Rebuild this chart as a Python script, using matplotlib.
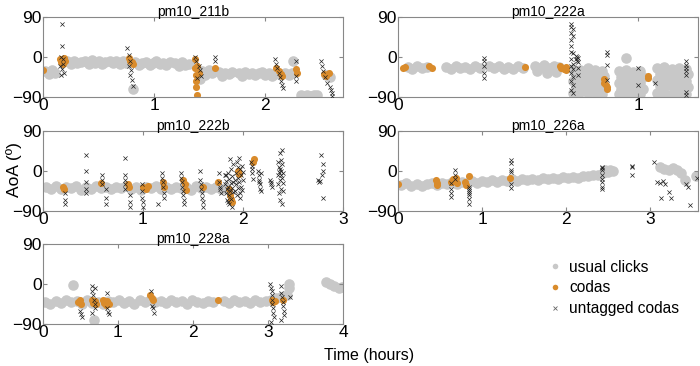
import matplotlib.pyplot as plt
from matplotlib.lines import Line2D

plt.rcParams['font.family'] = ['Liberation Sans', 'DejaVu Sans']

GRAY = '#c8c8c8'
ORANGE = '#d98b2b'
DARK = '#222222'

names = ['pm10_211b', 'pm10_222a', 'pm10_222b', 'pm10_226a', 'pm10_228a']
xmax = [2.7, 1.25, 3.0, 3.57, 4.0]
xticks = [[0, 1, 2], [0, 1], [0, 1, 2, 3], [0, 1, 2, 3], [0, 1, 2, 3, 4]]

# ---- pm10_211b
clicks_211b_t = [0.02, 0.05, 0.08, 0.11,
                 0.22, 0.25, 0.28, 0.31, 0.34,
                 0.38, 0.41, 0.44, 0.47, 0.50, 0.53, 0.56,
                 0.60, 0.63, 0.66, 0.69, 0.72, 0.75,
                 0.83, 0.86, 0.89,
                 0.93, 0.96, 0.99, 1.02, 1.05, 1.08, 1.11, 1.14,
                 1.19, 1.22, 1.25, 1.28, 1.31,
                 1.43, 1.46, 1.49, 1.52, 1.58, 1.61, 1.64, 1.67, 1.70,
                 1.76, 1.79, 1.82, 1.85, 1.88, 1.91, 1.94,
                 1.97, 2.00, 2.03, 2.06, 2.09, 2.18, 2.21, 2.24,
                 2.25,
                 2.32, 2.35, 2.38, 2.41, 2.44, 2.47,
                 2.55, 2.58,
                 0.81, 1.41]
clicks_211b_a = [-32, -38, -30, -36,
                 -10, -16, -8, -14, -12,
                 -9, -15, -7, -13, -10, -16, -12,
                 -8, -14, -10, -16, -9, -13,
                 -12, -18, -14,
                 -12, -18, -14, -10, -16, -13, -17, -12,
                 -14, -20, -12, -18, -15,
                 -32, -40, -30, -36, -34, -42, -35, -38, -33,
                 -36, -42, -34, -38, -35, -41, -37,
                 -34, -40, -36, -42, -38, -35, -40, -36,
                 -8,
                 -86, -87, -86, -87, -86, -86,
                 -40, -44,
                 -72, -50]
codas_211b_t = [0.0, 0.15, 0.16, 0.17, 0.18, 0.19, 0.20, 0.77, 0.78, 0.80, 0.81,
                1.37, 1.37, 1.38, 1.38, 1.38, 1.39, 1.39, 1.40, 1.55,
                2.10, 2.12, 2.14, 2.15, 2.28, 2.29, 2.53, 2.55, 2.57]
codas_211b_a = [-30, -5, -12, -8, -15, -3, -10, -2, -8, -12, -16,
                -5, -25, -40, -55, -68, -85, -20, -35, -25,
                -25, -32, -38, -42, -28, -35, -38, -42, -35]
untag_211b_t = [0.17, 0.17, 0.16, 0.18, 0.15, 0.17, 0.19, 0.16, 0.18,
                0.76, 0.77, 0.78, 0.77, 0.79, 0.78, 0.80, 0.81,
                1.37, 1.38, 1.40, 1.41, 1.42, 1.39, 1.55, 1.55,
                2.09, 2.10, 2.11, 2.12, 2.13, 2.14, 2.15, 2.16,
                2.28, 2.28, 2.28,
                2.50, 2.51, 2.52, 2.54, 2.56, 2.58, 2.59, 2.60, 2.60]
untag_211b_a = [75, 25, 0, -5, -20, -28, -35, -40, -15,
                20, 5, -10, -20, -30, -40, -52, -65,
                0, -10, -20, -30, -42, -48, 0, -8,
                -5, -15, -25, -35, -45, -55, -62, -70,
                -10, -42, -55,
                -8, -20, -32, -45, -58, -68, -75, -82, -88]

# ---- pm10_222a
clicks_222a_t = [0.04, 0.06, 0.08, 0.10, 0.12,
                 0.20, 0.22, 0.24, 0.26, 0.28, 0.30, 0.32, 0.34,
                 0.38, 0.40, 0.42, 0.44, 0.46, 0.48, 0.50, 0.52,
                 0.57, 0.59, 0.61, 0.63, 0.65, 0.67, 0.58, 0.62, 0.66,
                 0.73, 0.76, 0.79, 0.82, 0.85, 0.74, 0.77, 0.80, 0.83, 0.86,
                 0.73, 0.76, 0.79, 0.82, 0.85, 0.74, 0.77, 0.80, 0.83, 0.86,
                 0.73, 0.76, 0.79, 0.82, 0.85,
                 0.92, 0.95, 0.98, 1.01, 0.93, 0.96, 0.99, 1.02,
                 0.92, 0.95, 0.98, 1.01, 0.93, 0.96, 0.99, 1.02,
                 0.92, 0.95, 0.98, 1.01, 0.95,
                 1.08, 1.11, 1.14, 1.17, 1.20, 1.09, 1.12, 1.15, 1.18, 1.21,
                 1.08, 1.11, 1.14, 1.17, 1.20, 1.09, 1.12, 1.15, 1.18, 1.21,
                 1.08, 1.11, 1.14, 1.17, 1.20]
clicks_222a_a = [-22, -26, -20, -25, -22,
                 -22, -26, -20, -25, -22, -27, -21, -24,
                 -21, -25, -20, -26, -22, -27, -21, -24,
                 -20, -24, -19, -25, -21, -23, -32, -35, -33,
                 -26, -30, -24, -29, -32, -42, -40, -44, -41, -43,
                 -55, -53, -56, -54, -58, -68, -66, -69, -67, -70,
                 -80, -78, -82, -79, -83,
                 -32, -30, -34, -31, -45, -44, -47, -46,
                 -58, -57, -60, -59, -71, -70, -73, -72,
                 -84, -82, -85, -83, -3,
                 -25, -22, -28, -24, -26, -38, -36, -40, -37, -39,
                 -52, -50, -54, -51, -53, -66, -64, -68, -65, -67,
                 -80, -82, -84, -81, -83]
codas_222a_t = [0.02, 0.03, 0.13, 0.14, 0.53, 0.675, 0.68, 0.69, 0.70, 0.70,
                0.86, 0.86, 0.865, 0.87, 0.87, 1.04, 1.04]
codas_222a_a = [-25, -22, -20, -24, -22, -20, -25, -28, -22, -30,
                -50, -58, -63, -68, -72, -42, -47]
untag_222a_t = [0.36, 0.36, 0.36, 0.36, 0.36,
                0.72, 0.72, 0.72, 0.72, 0.72, 0.72, 0.72, 0.72, 0.72, 0.72, 0.72,
                0.73, 0.73, 0.73, 0.73, 0.73, 0.73, 0.73, 0.73,
                0.74, 0.74, 0.745, 0.745, 0.75, 0.75, 0.75, 0.75,
                0.87, 0.87, 0.87, 0.87, 1.00, 1.00, 1.07,
                1.20, 1.20, 1.20, 1.20, 1.20, 1.20, 1.20]
untag_222a_a = [-3, -10, -20, -35, -48,
                75, 68, 55, 38, 25, 12, -5, -20, -35, -55, -75,
                62, 48, 8, -15, -28, -45, -62, -82,
                2, -5, 0, -8, -3, -12, -25, -40,
                12, 5, -18, -52, -25, -62, -58,
                -10, -18, -25, -32, -40, -78, -85]

# ---- pm10_222b
clicks_222b_t = [0.03, 0.08, 0.13, 0.18, 0.23, 0.28, 0.33, 0.38, 0.43, 0.48,
                 0.53, 0.58, 0.63, 0.68, 0.73, 0.78, 0.83, 0.88, 0.93, 0.98,
                 1.03, 1.08, 1.13, 1.18, 1.23, 1.28, 1.33, 1.38, 1.43, 1.48,
                 1.53, 1.58, 1.63, 1.68, 1.73, 1.78, 1.83]
clicks_222b_a = [-35, -40, -33, -41, -36, -39, -34, -42, -37, -40,
                 -34, -38, -36, -41, -35, -39, -33, -40, -37, -42,
                 -36, -39, -34, -40, -37, -41, -35, -38, -36, -42,
                 -34, -39, -37, -41, -35, -40, -38]
codas_222b_t = [0.20, 0.21, 0.58, 0.85, 0.86, 1.00, 1.03, 1.05, 1.20, 1.21,
                1.40, 1.42, 1.43, 1.60, 1.75, 1.86, 1.87, 1.88, 1.89,
                1.95, 1.96, 2.10, 2.11]
codas_222b_a = [-35, -40, -28, -30, -36, -35, -40, -33, -25, -35,
                -20, -30, -42, -35, -25, -40, -55, -62, -70,
                0, -6, 20, 26]
untag_222b_t = [0.22, 0.22, 0.22, 0.43, 0.43, 0.43, 0.43, 0.43,
                0.59, 0.59, 0.59, 0.63, 0.63, 0.63,
                0.82, 0.82, 0.82, 0.82, 0.82, 0.87, 0.87, 0.87,
                0.99, 0.99, 0.99, 1.00, 1.00, 1.15,
                1.19, 1.19, 1.20, 1.20, 1.21, 1.21,
                1.38, 1.38, 1.39, 1.39, 1.40, 1.40, 1.41, 1.41,
                1.57, 1.57, 1.58, 1.58, 1.59, 1.59, 1.60, 1.60,
                1.76, 1.76, 1.77, 1.77, 1.78,
                1.82, 1.82, 1.83, 1.83, 1.84, 1.84, 1.85, 1.85, 1.86, 1.86, 1.86, 1.87,
                1.87, 1.88, 1.88, 1.88, 1.89, 1.89, 1.89, 1.90, 1.90, 1.90, 1.85, 1.83,
                1.92, 1.92, 1.93, 1.93, 1.94, 1.94, 1.95, 1.95, 1.96, 1.96,
                1.97, 1.97, 1.98, 1.98, 1.99, 1.99, 2.00, 2.00, 1.97, 1.95,
                2.08, 2.09, 2.09, 2.10, 2.09,
                2.15, 2.16, 2.16, 2.17, 2.17, 2.18, 2.18, 2.16,
                2.27, 2.28, 2.29, 2.28,
                2.35, 2.35, 2.36, 2.36, 2.37, 2.37, 2.37, 2.38, 2.38, 2.38, 2.39,
                2.39, 2.39, 2.40, 2.40, 2.36, 2.37, 2.38, 2.39, 2.40, 2.35,
                2.75, 2.76, 2.78, 2.80, 2.80, 2.79, 2.80, 2.77]
untag_222b_a = [-50, -65, -75, 35, 0, -25, -40, -50,
                -10, -20, -30, -40, -60, -75,
                30, -10, -20, -30, -40, -55, -70, -80,
                -30, -45, -60, -70, -80, -75,
                -5, -15, -25, -35, -50, -60,
                -5, -15, -25, -35, -45, -55, -65, -75,
                0, -20, -30, -40, -50, -60, -70, -80,
                -5, -25, -35, -40, -50,
                -10, -30, -50, -22, -40, -65, -5, -35, -55, -75, -18, -45,
                28, -28, -62, 5, -12, -38, -80, -48, 15, -25, -70, -8,
                -20, -45, -5, -30, 20, -55, -15, -38, 30, -25,
                -50, 5, -10, -35, 12, -42, -2, -20, -60, 10,
                20, 5, -5, -18, 12,
                0, -10, -20, -30, -40, -45, -5, -25,
                -20, -30, -35, -25,
                -10, -30, 10, -50, -20, 40, -65, 0, -40, 25, -15,
                -75, 48, -5, -28, -2, 5, -8, 15, -45, 20,
                -20, -25, 35, 15, 0, -10, -60, -22]

# ---- pm10_226a
clicks_226a_t = [0.04, 0.10, 0.16, 0.22, 0.28, 0.34, 0.40, 0.46, 0.52, 0.58,
                 0.64, 0.70, 0.76, 0.82, 0.88, 0.94, 1.00, 1.06, 1.12, 1.18,
                 1.24, 1.30, 1.36, 1.42, 1.48, 1.54, 1.60, 1.66, 1.72, 1.78,
                 1.84, 1.90, 1.96, 2.02, 2.08, 2.14, 2.20, 2.26, 2.32, 2.38,
                 2.44, 2.50, 2.56, 2.46, 2.52,
                 3.12, 3.17, 3.22, 3.27, 3.32, 3.37, 3.42, 3.55]
clicks_226a_a = [-32, -28, -34, -29, -33, -30, -27, -31, -26, -30,
                 -25, -29, -24, -27, -23, -26, -22, -25, -21, -24,
                 -20, -23, -19, -22, -18, -21, -17, -20, -16, -19,
                 -15, -18, -14, -16, -13, -15, -11, -12, -8, -9,
                 -4, -2, -1, 3, 2,
                 8, 5, 2, 6, 3, -5, -20, -12]
codas_226a_t = [0.0, 0.45, 0.46, 0.46, 0.63, 0.65, 0.67, 0.69, 0.70, 0.80, 0.81, 0.85, 1.33]
codas_226a_a = [-30, -20, -27, -32, -25, -18, -22, -15, -28, -25, -32, -12, -15]
untag_226a_t = [0.63, 0.63, 0.63, 0.63, 0.68, 0.68, 0.68,
                0.85, 0.85, 0.85, 0.85, 0.85, 0.85, 0.85,
                1.35, 1.35, 1.35, 1.35, 1.35, 1.35,
                2.43, 2.43, 2.43, 2.43, 2.43, 2.43, 2.43, 2.43,
                2.79, 2.79, 2.79, 3.05, 3.08, 3.12, 3.15, 3.18, 3.13,
                3.22, 3.25, 3.43, 3.45, 3.47, 3.56]
untag_226a_a = [-28, -40, -50, -58, 3, -8, -18,
                -35, -40, -45, -50, -55, -62, -75,
                25, 17, 3, -3, -30, -38,
                10, 6, 2, -8, -18, -25, -35, -40,
                12, 8, -8, 20, -25, -28, -22, -30, -60,
                -48, -60, -30, -35, -77, -15]

# ---- pm10_228a
clicks_228a_t = [0.03, 0.10, 0.17, 0.24, 0.31, 0.38, 0.45, 0.52, 0.59, 0.66,
                 0.73, 0.80, 0.87, 0.94, 1.01, 1.08, 1.15, 1.22, 1.29, 1.36,
                 1.43, 1.50, 1.57, 1.64, 1.71, 1.78, 1.85, 1.92, 1.99, 2.06,
                 2.13, 2.20, 2.27, 2.41, 2.48, 2.55, 2.62, 2.69, 2.76, 2.83,
                 2.90, 2.97, 3.04, 3.11, 3.18, 3.25,
                 0.40, 0.68, 3.28, 3.28, 3.78, 3.83, 3.88, 3.95, 3.99]
clicks_228a_a = [-40, -45, -38, -43, -36, -41, -39, -44, -37, -42,
                 -40, -45, -38, -41, -36, -42, -39, -44, -37, -41,
                 -35, -40, -38, -43, -36, -41, -39, -44, -37, -40,
                 -42, -38, -41, -39, -43, -37, -40, -38, -42, -36,
                 -40, -38, -35, -32, -30, -25,
                 -3, -80, -10, 0, 5, 0, -5, -8, -6]
codas_228a_t = [0.47, 0.49, 0.51, 0.65, 0.67, 0.69, 0.71, 0.80, 0.82, 0.84, 0.86, 0.88,
                1.43, 1.45, 1.47, 2.33, 3.05, 3.07, 3.09, 3.20]
codas_228a_a = [-40, -35, -44, -35, -42, -38, -46, -35, -42, -48, -38, -44,
                -25, -32, -36, -35, -35, -40, -38, -35]
untag_228a_t = [0.50, 0.51, 0.52, 0.65, 0.66, 0.67, 0.68, 0.69, 0.70, 0.66, 0.69,
                0.85, 0.86, 0.87, 0.88, 1.44, 1.46, 1.47, 1.48,
                3.03, 3.04, 3.05, 3.05, 3.06, 3.06, 3.07, 3.07, 3.08, 3.04,
                3.17, 3.18, 3.19, 3.20, 3.20, 3.21, 3.22, 3.18, 3.30]
untag_228a_a = [-60, -68, -75, -5, -15, -25, -35, -45, -55, -65, -10,
                -20, -55, -62, -68, -15, -50, -55, -65,
                0, -8, -15, -25, -35, -45, -55, -65, -75, -85,
                -5, -20, -30, -40, -50, -60, -70, -80, -30]

clicks = [(clicks_211b_t, clicks_211b_a), (clicks_222a_t, clicks_222a_a),
          (clicks_222b_t, clicks_222b_a), (clicks_226a_t, clicks_226a_a),
          (clicks_228a_t, clicks_228a_a)]
codas = [(codas_211b_t, codas_211b_a), (codas_222a_t, codas_222a_a),
         (codas_222b_t, codas_222b_a), (codas_226a_t, codas_226a_a),
         (codas_228a_t, codas_228a_a)]
untagged = [(untag_211b_t, untag_211b_a), (untag_222a_t, untag_222a_a),
            (untag_222b_t, untag_222b_a), (untag_226a_t, untag_226a_a),
            (untag_228a_t, untag_228a_a)]

fig = plt.figure(figsize=(7, 3.66), dpi=100)

# axes boxes in figure fractions (left, bottom, width, height)
boxes = [(0.0614, 0.735, 0.4286, 0.2186), (0.5686, 0.735, 0.4286, 0.2186),
         (0.0614, 0.4235, 0.4286, 0.2186), (0.5686, 0.4235, 0.4286, 0.2186),
         (0.0614, 0.1148, 0.4286, 0.2186)]

for i in range(5):
    ax = fig.add_axes(boxes[i])
    ax.scatter(clicks[i][0], clicks[i][1], s=58, color=GRAY, linewidths=0, zorder=1)
    ax.scatter(codas[i][0], codas[i][1], s=26, color=ORANGE, linewidths=0, zorder=2)
    ax.scatter(untagged[i][0], untagged[i][1], s=9, marker='x', color=DARK,
               linewidths=0.5, zorder=3)
    ax.set_xlim(0, xmax[i])
    ax.set_ylim(-90, 90)
    ax.set_xticks(xticks[i])
    ax.set_yticks([-90, 0, 90])
    ax.tick_params(direction='in', length=3, labelsize=12.5, top=True, right=True,
                   color='#888888', pad=1)
    for sp in ax.spines.values():
        sp.set_color('#888888')
        sp.set_linewidth(0.8)
    ax.set_title(names[i], fontsize=10, pad=1)

fig.text(0.02, 1 - 170 / 366, 'AoA (º)', rotation=90, fontsize=12.5,
         ha='center', va='center')
fig.text(369 / 700, 0.03, 'Time (hours)', fontsize=11.5, ha='center', va='center')

handles = [Line2D([], [], ls='none', marker='o', ms=4, color=GRAY, mec='none'),
           Line2D([], [], ls='none', marker='o', ms=4, color=ORANGE, mec='none'),
           Line2D([], [], ls='none', marker='x', ms=3, color='#666666', mew=0.6)]
fig.legend(handles, ['usual clicks', 'codas', 'untagged codas'], loc='center left',
           bbox_to_anchor=(535 / 700, 1 - 288 / 366), frameon=False, fontsize=11.2,
           handlelength=0.8, handletextpad=0.5, labelspacing=0.38)

fig.savefig('out.png', dpi=100)
